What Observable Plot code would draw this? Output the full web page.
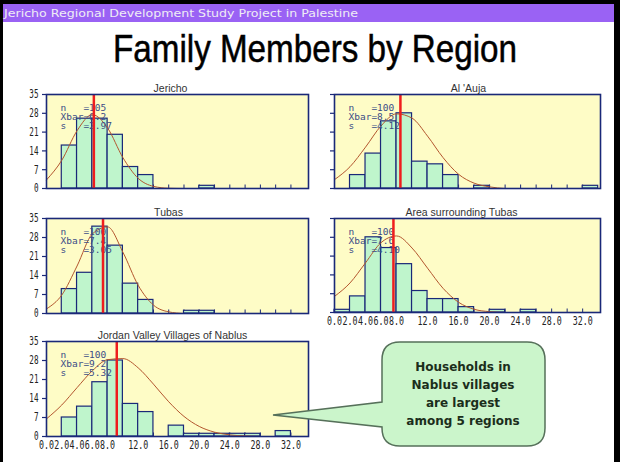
<!DOCTYPE html>
<html><head><meta charset="utf-8">
<script src="https://cdn.jsdelivr.net/npm/d3@7"></script>
<script src="https://cdn.jsdelivr.net/npm/@observablehq/plot@0.6"></script>
<style>
body{margin:0;background:#fff;}
#slide{position:relative;width:620px;height:462px;overflow:hidden;background:#fff;}
#slide > svg{position:absolute;}
</style></head><body><div id="slide"></div>
<script>
// ---------- data ----------
const headerText = "Jericho Regional Development Study Project in Palestine";
const mainTitle = "Family Members by Region";
const regions = ["Jericho", "Al 'Auja", "Tubas", "Area surrounding Tubas", "Jordan Valley Villages of Nablus"];
const binStarts = [0,2,4,6,8,10,12,14,16,18,20,22,24,26,28,30,32];
const jerichoCounts = [0,16,26,26,20,8,5,0,0,0,1,0,0,0,0,0,0];
const aujaCounts    = [0,5,13,25,28,10,9,5,0,1,0,0,0,0,0,0,1];
const tubasCounts   = [0,9,15,32,25,11,5,0,0,1,1,0,0,0,0,0,0];
const areaCounts    = [1,6,28,24,18,8,5,5,2,0,1,0,1,0,0,0,0];
const nablusCounts  = [0,7,11,20,28,12,9,0,4,1,1,1,1,1,0,2,0];
const curveX = [0,2,4,6,8,10,12,14,16,18,20,22,24,26,28];
const jerichoCurve = [3.2,10.5,21.5,27.5,22.5,11.5,3.8,0.8,0.1,0];
const aujaCurve    = [3.3,8.1,15.4,23.3,27.8,26.2,19.5,11.5,5.3,2.0,0.6,0];
const tubasCurve   = [1.7,6.8,17.5,29.3,31.9,22.6,10.4,3.1,0.6,0];
const areaCurve    = [6,11,18.5,26,28.5,24,16.5,9,3.8,1.2,0.3,0];
const nablusCurve  = [6.5,11.6,18,24.2,28.3,28.7,25.3,19.3,12.8,7.4,3.7,1.6,0.6,0.2,0];
const means = [6.2, 8.5, 7.4, 7.6, 9.2];
const sizes = [105, 100, 100, 100, 100];
const sds = ["2.97", "4.12", "3.05", "4.10", "5.32"];
const yTicks = [0,7,14,21,28,35];
const xTickValues = [0,2,4,6,8,12,16,20,24,28,32];
const binEdges = [2,4,6,8,10,12,14,16,18,20,22,24,26,28,30,32];
const calloutLines = ["Households in", "Nablus villages", "are largest", "among 5 regions"];

const countsList = [jerichoCounts, aujaCounts, tubasCounts, areaCounts, nablusCounts];
const curveList = [jerichoCurve, aujaCurve, tubasCurve, areaCurve, nablusCurve];

// ---------- layout ----------
const layout = [
  {left:0,   plotTop:94,  plotH:94, w:310, ml:46, mr:2, yLabels:true,  xLabels:false, titleDx:-7},
  {left:310, plotTop:94,  plotH:94, w:296, ml:24, mr:6, yLabels:false, xLabels:false, titleDx:1},
  {left:0,   plotTop:218, plotH:95, w:310, ml:46, mr:2, yLabels:true,  xLabels:false, titleDx:-9},
  {left:310, plotTop:218, plotH:94, w:296, ml:24, mr:6, yLabels:false, xLabels:true,  titleDx:-6},
  {left:0,   plotTop:341, plotH:95, w:310, ml:46, mr:2, yLabels:true,  xLabels:true,  titleDx:-5}
];
const navy = "#1a2878";
const slide = document.getElementById("slide");

// ---------- decoration (borders, header, title) ----------
const deco = d3.select(slide).append("svg").attr("width",620).attr("height",462).style("left","0px").style("top","0px");
deco.append("rect").attr("x",0).attr("y",0).attr("width",620).attr("height",4).attr("fill","#000");
deco.append("rect").attr("x",0).attr("y",0).attr("width",3).attr("height",462).attr("fill","#000");
deco.append("rect").attr("x",614).attr("y",0).attr("width",6).attr("height",462).attr("fill","#000");
deco.append("rect").attr("x",3).attr("y",4).attr("width",611).attr("height",18).attr("fill","#9a62f4");
deco.append("text").attr("x",4).attr("y",17).attr("fill","#efedf4").attr("font-family","DejaVu Sans").attr("font-size",11)
  .attr("textLength",354).attr("lengthAdjust","spacingAndGlyphs").text(headerText);
deco.append("text").attr("x",315).attr("y",62).attr("text-anchor","middle").attr("fill","#000")
  .attr("font-family","Liberation Sans").attr("font-size",38).attr("stroke","#000").attr("stroke-width",0.5)
  .attr("textLength",404).attr("lengthAdjust","spacingAndGlyphs").text(mainTitle);

// ---------- panels ----------
function compress(nodes, perChar) {
  nodes.forEach(node => {
    const t = node.textContent;
    if (t) { node.setAttribute("textLength", t.length*perChar); node.setAttribute("lengthAdjust","spacingAndGlyphs"); }
  });
}
layout.forEach((L, i) => {
  const counts = countsList[i];
  const bins = binStarts.map((x0,j)=>({x1:x0, x2:x0+2, n:counts[j]})).filter(d=>d.n>0);
  const curve = curveList[i].map((y,j)=>({x:curveX[j], y}));
  const statsText = [`n   =${sizes[i]}`, `Xbar=${means[i].toFixed(1)}`, `s   =${sds[i]}`].join("\n");
  const mt = 18, mb = L.xLabels ? 22 : 4;
  const marks = [
    Plot.frame({fill:"#fefcc6"}),
    Plot.ruleX(binEdges, {x:d=>d, y1:0, y2:1.3, stroke:navy, strokeWidth:1}),
    Plot.rectY(bins, {x1:"x1", x2:"x2", y:"n", fill:"#bff5cc", stroke:navy, strokeWidth:1.2}),
    Plot.line(curve, {x:"x", y:"y", stroke:"#b3562e", strokeWidth:1, curve:"monotone-x"}),
    Plot.text([statsText], {frameAnchor:"top-left", dx:14, dy:10, lineAnchor:"top", textAnchor:"start",
      fontFamily:"DejaVu Sans Mono", fontSize:9.5, lineHeight:0.95, fill:"#3b4c86"}),
    Plot.ruleX([means[i]], {x:d=>d, stroke:"#ef1d1d", strokeWidth:2.5}),
    Plot.axisY({ticks:yTicks, tickSize:4, tickPadding:4, stroke:navy, strokeWidth:1.2, fill:"#222",
      tickFormat: L.yLabels ? (d=>String(d)) : (()=>""), label:null}),
    Plot.frame({stroke:navy, strokeWidth:1.6}),
    Plot.text([regions[i]], {frameAnchor:"top", dx:L.titleDx, dy:-3, lineAnchor:"bottom",
      fontFamily:"Liberation Sans", fontSize:10.5, fill:"#333"})
  ];
  if (L.xLabels) marks.push(Plot.text(xTickValues, {x:d=>d, frameAnchor:"bottom", dy:12, text:d=>d.toFixed(1),
    fontFamily:"DejaVu Sans Mono", fontSize:12, fill:"#222"}));
  const svg = Plot.plot({
    width: L.w, height: mt + L.plotH + mb,
    marginLeft: L.ml, marginRight: L.mr, marginTop: mt, marginBottom: mb,
    x: {domain:[0,34.3], axis:null},
    y: {domain:[0,35], label:null},
    style: {background:"transparent", overflow:"visible", whiteSpace:"pre"},
    marks
  });
  d3.select(svg).selectAll('g[aria-label="y-axis tick label"]').attr("font-family","DejaVu Sans Mono").attr("font-size",12);
  compress(Array.from(svg.querySelectorAll('g[aria-label="y-axis tick label"] text')), 4.6);
  compress(Array.from(svg.querySelectorAll('text')).filter(n => n.children.length === 0 && /^\d+\.0$/.test(n.textContent)), 5);
  svg.style.left = L.left + "px";
  svg.style.top = (L.plotTop - mt) + "px";
  slide.appendChild(svg);
});

// ---------- callout ----------
const co = d3.select(slide).append("svg").attr("width",620).attr("height",462).style("left","0px").style("top","0px");
co.append("path")
  .attr("d","M400,342 H527 Q545,342 545,360 V428 Q545,446 527,446 H400 Q382,446 382,428 V427 L273,415 L382,402 V360 Q382,342 400,342 Z")
  .attr("fill","#cbf5cb").attr("stroke","#56705a").attr("stroke-width",1.5);
calloutLines.forEach((t, k) => {
  co.append("text").attr("x",463).attr("y",371 + k*18).attr("text-anchor","middle")
    .attr("font-family","DejaVu Sans").attr("font-weight","bold").attr("font-size",12).attr("fill","#1b2e1b").text(t);
});
</script>
</body></html>
